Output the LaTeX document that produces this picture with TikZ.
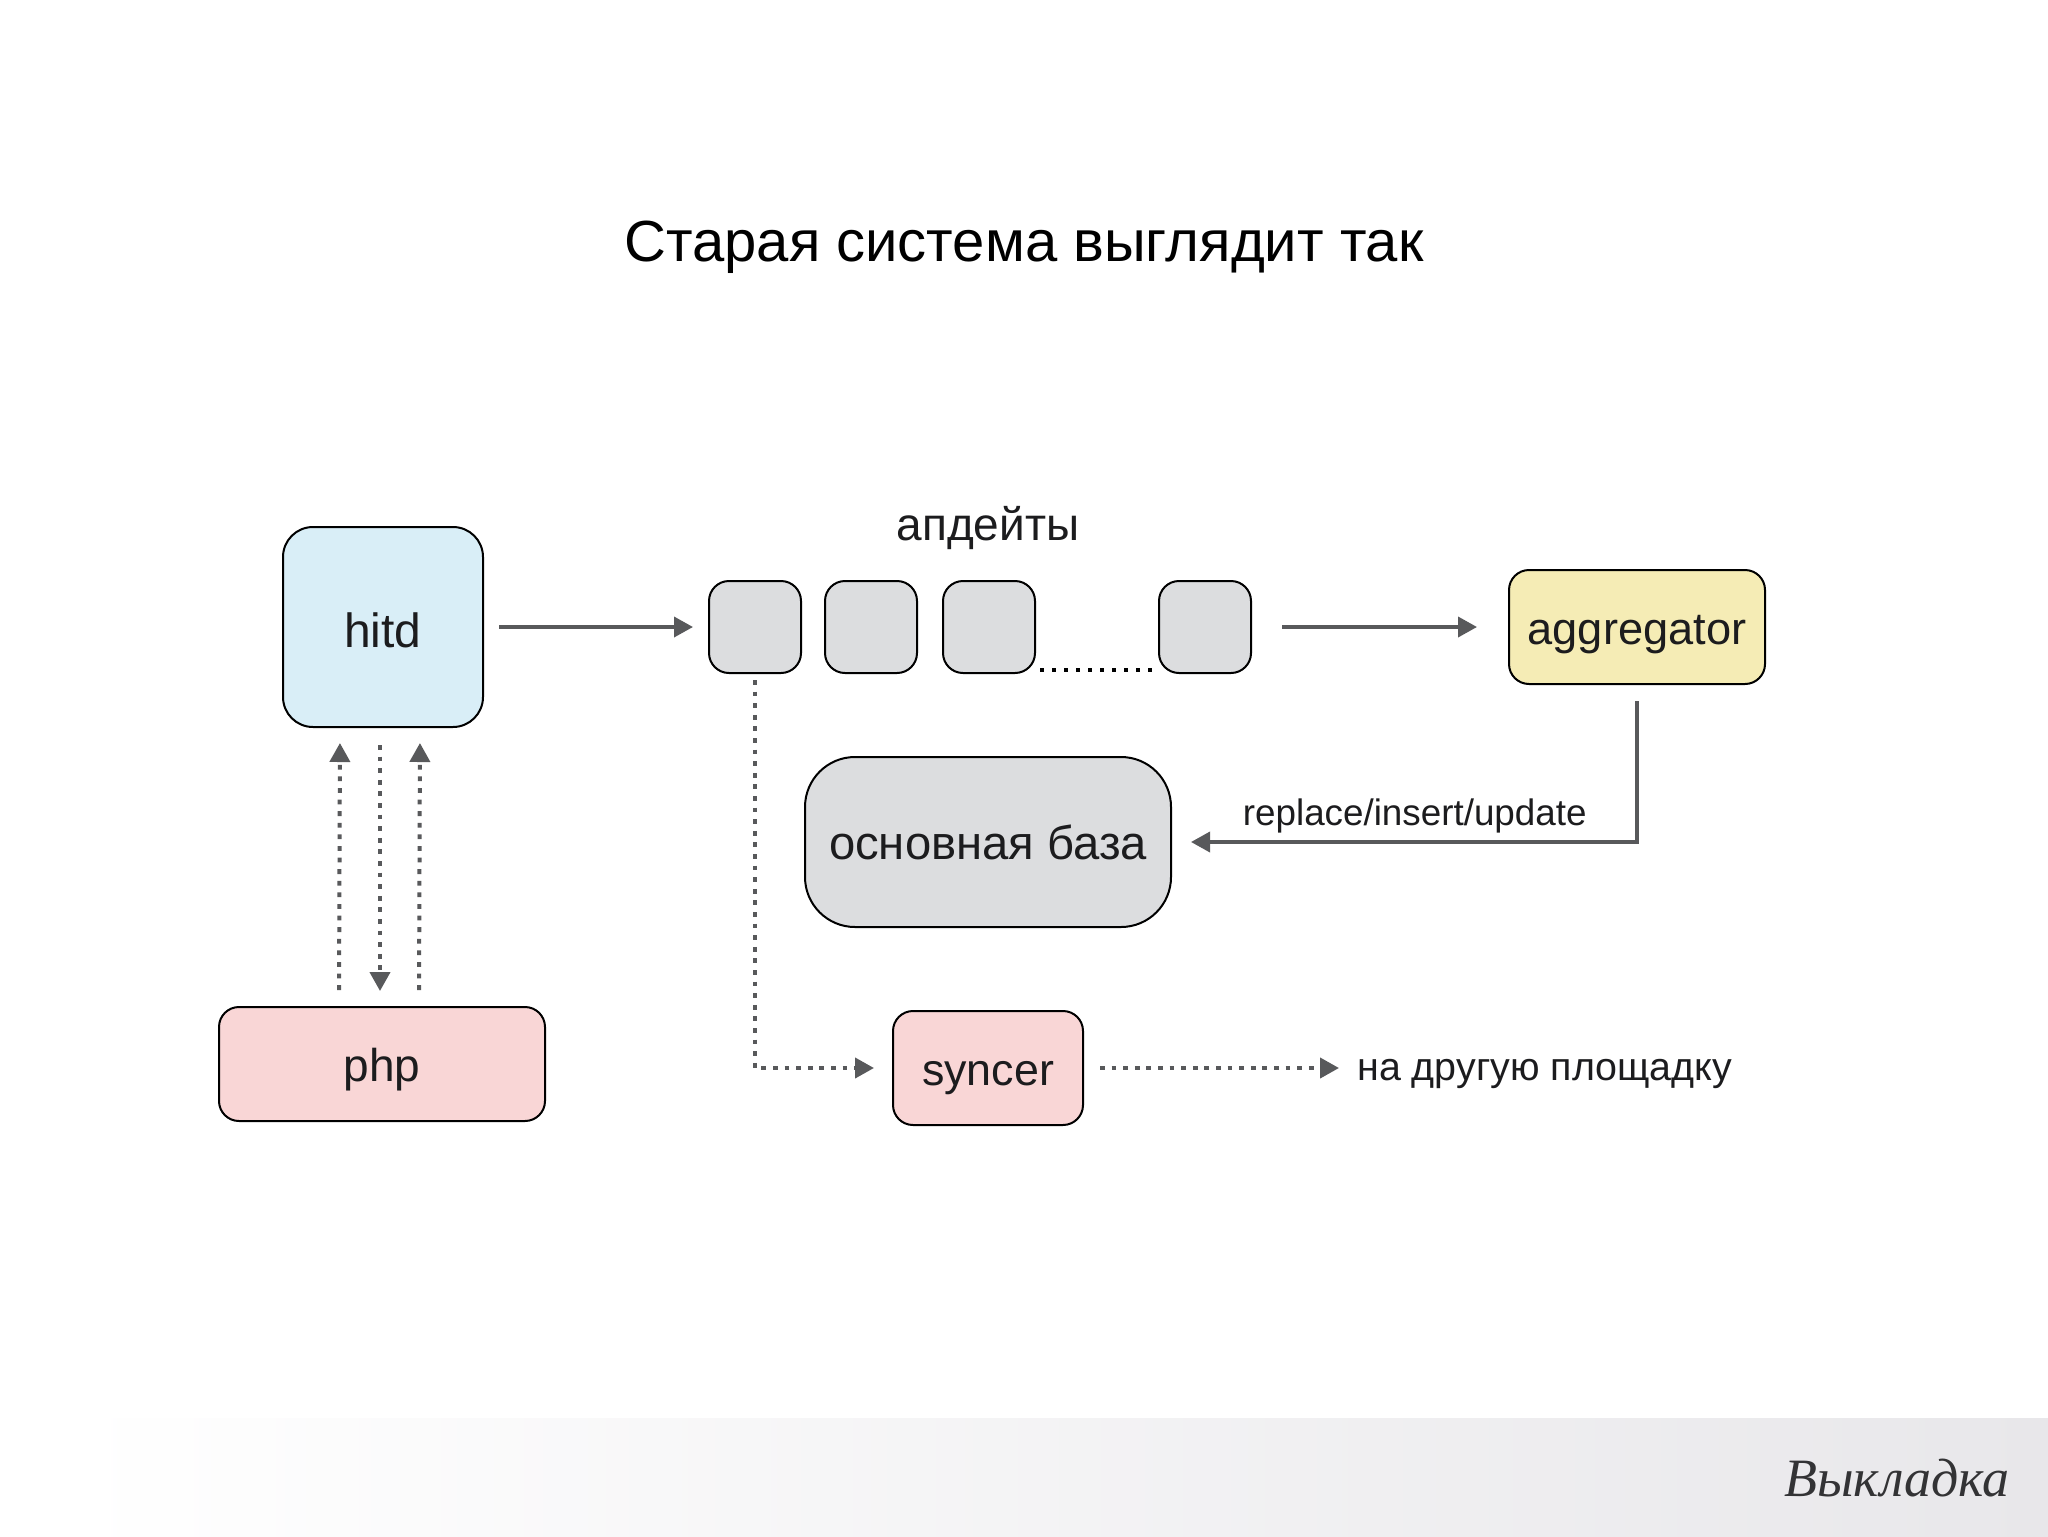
\documentclass[tikz,border=0pt]{standalone}
\usepackage{fontspec}
\setmainfont{Liberation Sans}
\newfontfamily\signfont{Liberation Serif}
\usepackage{xcolor}
\usetikzlibrary{positioning,calc,arrows.meta}
\definecolor{lineGray}{HTML}{58595B}
\definecolor{boxGray}{HTML}{DCDDDF}
\definecolor{boxBlue}{HTML}{D9EEF7}
\definecolor{boxPink}{HTML}{F9D6D6}
\definecolor{boxYellow}{HTML}{F5ECB5}
\definecolor{bandGray}{HTML}{E8E7EA}
\definecolor{textDark}{HTML}{1C1C1E}
\newcommand{\fsz}[1]{\fontsize{#1}{#1}\selectfont}
\tikzset{
    box/.style={draw=black, line width=1pt, inner sep=0pt, text=textDark, text height=17.6pt, text depth=0pt, font=\fsz{23}},
    qbox/.style={box, fill=boxGray, minimum width=46pt, minimum height=46pt, rounded corners=10pt},
    solidarrow/.style={draw=lineGray, line width=1.8pt, -{Triangle[length=9.5pt,width=10pt]}},
    dotarrow/.style={draw=lineGray, line width=2pt, dash pattern=on 2.4pt off 3.4pt, -{Triangle[length=9.5pt,width=10pt]}},
}

\begin{document}
\begin{tikzpicture}[x=0.5pt, y=-0.5pt]
    \useasboundingbox[fill=white] (0,0) rectangle (2048,1536);
    % Bottom band
    \shade[left color=white, right color=bandGray] (70,1418) rectangle (2048,1536);
    \node[font=\signfont\itshape\fsz{27}, text=textDark!90, inner sep=0pt] (sign) at (1897,1478) {Выкладка};

    % Title
    \node[font=\fsz{29}, text=black, inner sep=0pt] (title) at (1024,247) {Старая система выглядит так};

    % Left column
    \node[box, font=\fsz{24}, text height=20pt, fill=boxBlue, minimum width=100pt, minimum height=100pt, rounded corners=15pt] (hitd) at (383,627) {hitd};
    \node[box, fill=boxPink, minimum width=163pt, minimum height=57pt, rounded corners=10pt] (php) at (382,1064) {php};

    % Queue of updates
    \node[qbox] (q1) at (755,627) {};
    \node[qbox] (q2) at (871,627) {};
    \node[qbox] (q3) at (989,627) {};
    \node[qbox] (q4) at (1205,627) {};
    \node[font=\fsz{23}, text=textDark, inner sep=0pt] (updates) at (988,528) {апдейты};

    % Right side
    \node[box, font=\fsz{22.6}, fill=boxYellow, minimum width=128pt, minimum height=57pt, rounded corners=10pt] (agg) at (1637,627) {aggregator};
    \node[box, font=\fsz{23.6}, fill=boxGray, minimum width=183pt, minimum height=85pt, rounded corners=25pt] (base) at (988,842) {основная база};
    \node[box, font=\fsz{22.4}, fill=boxPink, minimum width=95pt, minimum height=57pt, rounded corners=10pt] (syncer) at (988,1068) {syncer};
    \node[font=\fsz{19.7}, text=textDark, inner sep=0pt, text height=12pt, text depth=0pt, anchor=west] (other) at (1357,1068) {на другую площадку};

    % Solid flow
    \draw[solidarrow, shorten <=7.5pt, shorten >=7.5pt] (hitd.east) -- (q1.west);
    \draw[solidarrow, shorten <=15pt, shorten >=15.5pt] (q4.east) -- (agg.west);
    \draw[solidarrow, shorten <=8pt, shorten >=9.5pt] (agg.south) |- (base.east)
        node[pos=0.739, above=3.5pt, font=\fsz{18.4}, text=textDark, inner sep=0pt] (label) {replace/insert/update};

    % Dotted flow
    \draw[dotarrow, shorten <=3pt, shorten >=9pt] (q1.south) |- (syncer.west);
    \draw[dotarrow, shorten <=8pt, shorten >=9pt] (syncer.east) -- (other.west);
    \foreach \dx in {-43,37}
        \draw[dotarrow, shorten <=8pt, shorten >=7.5pt] ([xshift=\dx*0.5pt]php.north) -- ([xshift=\dx*0.5pt]hitd.south);
    \draw[dotarrow, shorten <=8.5pt, shorten >=7.5pt] ([xshift=-1.5pt]hitd.south) -- ([xshift=-1pt]php.north);

    % Dots between the last boxes
    \draw[black, line width=2pt, dash pattern=on 2pt off 4pt, shorten <=2pt, shorten >=3pt]
        ([yshift=2pt]q3.south east) -- ([yshift=2pt]q4.south west);
\end{tikzpicture}
\end{document}
